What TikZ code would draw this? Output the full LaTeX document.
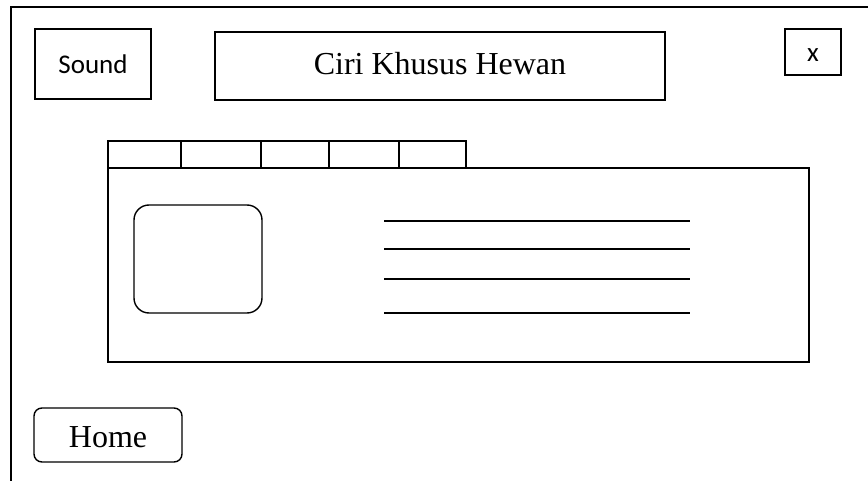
\documentclass[tikz,border=0pt]{standalone}
\usepackage{fontspec}
\setmainfont{Liberation Serif}
\newfontfamily\calib{Carlito}
\begin{document}
\begin{tikzpicture}[x=1pt,y=-1pt,line width=1.4pt,
  boxsq/.style={draw,inner sep=0pt},
  lineitem/.style={line width=1.6pt}]
\useasboundingbox (0,0) rectangle (868,481);
% outer frame
\coordinate (frTR) at (868,7);
\coordinate (frTL) at (11,7);
\coordinate (frBL) at (11,481);
\draw (frTR) -- (frTL) -- (frBL);
% top bar
\draw (35,29) rectangle (151,99);
\node (sound) at (93,64) {\fontsize{27}{30}\selectfont\calib Sound};
\draw (215,32) rectangle (665,100);
\node (title) at (440,64) {\fontsize{32}{36}\selectfont Ciri Khusus Hewan};
\draw (785,29) rectangle (841,75);
\node (close) at (813,55) {\fontsize{27}{30}\selectfont\calib x};
% tabs
\draw (108,141) rectangle (181,168);
\draw (181,141) rectangle (261,168);
\draw (261,141) rectangle (329,168);
\draw (329,141) rectangle (399,168);
\draw (399,141) rectangle (466,168);
% main panel
\draw (108,168) rectangle (809,362);
\draw[rounded corners=15pt] (134,205) rectangle (262,313);
\foreach \yy in {221,249,279,313}
  \draw[lineitem] (384,\yy) -- (690,\yy);
% home
\draw[rounded corners=8pt] (34,408) rectangle (182,462);
\node (home) at (108,437) {\fontsize{32}{36}\selectfont Home};
\end{tikzpicture}
\end{document}
